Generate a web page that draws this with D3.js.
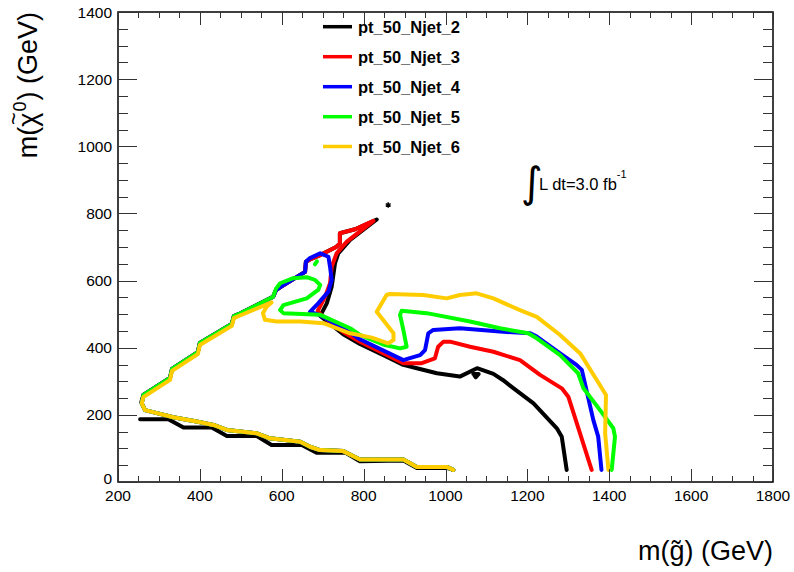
<!DOCTYPE html>
<html><head><meta charset="utf-8">
<script src="https://cdn.jsdelivr.net/npm/d3@7"></script>
<style>
body{margin:0;background:#fff}
svg{display:block}
text{font-family:"Liberation Sans",Arial,Helvetica,sans-serif;fill:#000}
</style>
</head><body>
<svg id="chart" width="794" height="572"></svg>
<script>
// ---------- data ----------
const xTickValues = [200,400,600,800,1000,1200,1400,1600,1800];
const yTickValues = [0,200,400,600,800,1000,1200,1400];
const seriesNames = ["pt_50_Njet_2","pt_50_Njet_3","pt_50_Njet_4","pt_50_Njet_5","pt_50_Njet_6"];
const seriesColors = ["#000000","#ff0000","#0000ff","#00ff00","#ffcc00"];

// shared outer (left diagonal) edge, read top -> bottom
const outerEdge = [[657,626],[596,580],[586,572],[579,552],[498,502],[483,494],[478,471],[400,414],[395,387],[332,337],[327,310],[262,259]];
// shared lower staircase
const bottomEdge = [[258,234],[266,214],[295,205],[335,193],[392,180],[433,170],[466,155],[539,145],[571,130],[645,120],[669,105],[693,95],[750,92],[791,67],[897,67],[930,45],[1003,45],[1019,36]];

const njet2Main = [[1296,36],[1284,135],[1272,160],[1215,234],[1160,285],[1140,304],[1117,322],[1077,339],[1035,314],[979,324],[930,339],[897,349],[856,373],[791,411],[750,440],[694,495],[710,532],[722,582],[730,651],[738,681],[767,721],[832,782],[779,753],[742,741],[742,711],[734,701],[694,676],[669,663],[659,656]];
const njet2Corner = [[262,259],[257,238]];
const njet2Arrow = [[1068,322],[1081,322],[1074,312],[1068,322]];
const njet2Bottom = [[254,187],[323,187],[360,162],[429,162],[466,137],[539,137],[575,110],[649,110],[685,87],[755,88],[791,62],[897,64],[930,42],[1003,42],[1019,36]];

const njet3Main = [[1357,36],[1300,254],[1284,279],[1231,319],[1182,363],[1117,388],[1060,403],[1011,418],[995,418],[982,403],[974,368],[942,354],[897,354],[791,418],[750,447],[694,500],[688,510],[706,552],[718,592],[722,641],[734,681],[759,716],[824,778],[779,753],[742,741],[742,711],[734,701],[694,676],[669,663],[659,656]];

const njet4Main = [[1381,36],[1373,135],[1361,185],[1333,334],[1320,349],[1280,383],[1223,433],[1207,443],[1133,448],[1035,458],[970,453],[958,443],[950,393],[938,378],[913,369],[897,363],[791,425],[767,445],[694,497],[669,507],[689,532],[714,567],[722,602],[718,641],[714,671],[694,681],[669,667],[659,656]];

const njet5Main = [[1406,36],[1414,135],[1410,160],[1377,215],[1337,279],[1324,324],[1280,378],[1223,428],[1202,443],[1133,458],[1060,478],[954,503],[893,510],[889,498],[897,453],[905,403],[889,398],[852,408],[791,438],[767,458],[694,498],[604,503],[596,512],[604,527],[661,547],[689,572],[694,587],[681,602],[661,610],[628,607],[596,592],[586,576],[579,552]];
const njet5Dot = [[681,648],[686,657]];
const njet5Outer = [[498,502],[483,494],[478,471],[400,414],[395,387],[332,337],[327,310],[262,259]];

const njet6Main = [[1398,36],[1390,145],[1392,259],[1377,289],[1329,383],[1280,438],[1223,492],[1182,512],[1117,547],[1076,562],[1035,557],[1003,547],[946,557],[864,560],[856,557],[832,507],[873,443],[873,423],[860,413],[820,430],[767,443],[702,473],[645,478],[588,478],[559,483],[554,503],[563,522],[575,535],[498,496],[483,488],[478,465],[400,408],[395,381],[332,331],[327,304],[262,253]];

const markerPoint = [860,825];

const curves = [
  [njet2Main.concat(outerEdge, njet2Corner), njet2Arrow, njet2Bottom],
  [njet3Main.concat(outerEdge, bottomEdge)],
  [njet4Main.concat(outerEdge, bottomEdge)],
  [njet5Main.concat(njet5Outer, bottomEdge), njet5Dot],
  [njet6Main.concat(bottomEdge)]
];

// ---------- drawing ----------
const svg = d3.select("#chart");
const L = 118, R = 773, T = 12, B = 482;
const x = d3.scaleLinear().domain([200,1800]).range([L,R]);
const y = d3.scaleLinear().domain([0,1400]).range([B,T]);

svg.append("rect").attr("width",794).attr("height",572).attr("fill","#fff");

// curves
const line = d3.line().x(d=>x(d[0])).y(d=>y(d[1]));
const gC = svg.append("g");
curves.forEach((segs,i)=>{
  segs.forEach(seg=>{
    gC.append("path").attr("d",line(seg)).attr("fill","none")
      .attr("stroke",seriesColors[i]).attr("stroke-width",4)
      .attr("stroke-linejoin","round").attr("stroke-linecap","round");
  });
});
svg.append("path").attr("d",d3.symbol(d3.symbolAsterisk,22)())
  .attr("transform",`translate(${x(markerPoint[0])},${y(markerPoint[1])})`)
  .attr("stroke","#000").attr("stroke-width",1.5).attr("fill","none");

// frame
svg.append("rect").attr("x",L).attr("y",T).attr("width",R-L).attr("height",B-T)
  .attr("fill","none").attr("stroke","#000").attr("stroke-width",1.5);

// ticks
const gT = svg.append("g").attr("stroke","#333").attr("stroke-width",1);
const xMinor = d3.range(200,1801,50), yMinor = d3.range(0,1401,50);
xMinor.forEach(v=>{
  const len = (v%200===0)?13:6;
  gT.append("line").attr("x1",Math.round(x(v))+0.5).attr("x2",Math.round(x(v))+0.5).attr("y1",B).attr("y2",B-len);
  gT.append("line").attr("x1",Math.round(x(v))+0.5).attr("x2",Math.round(x(v))+0.5).attr("y1",T).attr("y2",T+len);
});
yMinor.forEach(v=>{
  const len = (v%200===0)?19:10;
  gT.append("line").attr("y1",Math.round(y(v))+0.5).attr("y2",Math.round(y(v))+0.5).attr("x1",L).attr("x2",L+len);
  gT.append("line").attr("y1",Math.round(y(v))+0.5).attr("y2",Math.round(y(v))+0.5).attr("x1",R).attr("x2",R-len);
});

// tick labels
xTickValues.forEach(v=>{
  svg.append("text").attr("x",x(v)).attr("y",501).attr("text-anchor","middle")
    .attr("font-size",15.5).text(v);
});
yTickValues.forEach(v=>{
  svg.append("text").attr("x",112).attr("y",y(v)+(v===0?1.5:5.5)).attr("text-anchor","end")
    .attr("font-size",15.5).text(v);
});

// axis titles
svg.append("text").attr("x",R).attr("y",560).attr("text-anchor","end").attr("font-size",27)
  .text("m(g\u0303) (GeV)");

const gy = svg.append("g");
const t1 = gy.append("text").attr("x",0).attr("y",0).attr("font-size",27).text("m(\u03C7");
const w1 = t1.node().getComputedTextLength();
const tmp = gy.append("text").attr("font-size",27).text("\u03C7");
const wChi = tmp.node().getComputedTextLength(); tmp.remove();
gy.append("text").attr("x",w1 - wChi/2 + 1).attr("y",-16).attr("text-anchor","middle")
  .attr("font-size",22).text("~");
const tSup = gy.append("text").attr("x",w1 + 1).attr("y",-11).attr("font-size",18).text("0");
const wSup = tSup.node().getComputedTextLength();
const tRest = gy.append("text").attr("x",w1 + wSup + 2).attr("y",0).attr("font-size",27).text(") (GeV)");
const total = w1 + wSup + 2 + tRest.node().getComputedTextLength();
gy.attr("transform",`translate(37,${T + total}) rotate(-90)`);

// legend
const legY = [26.7,56.7,86.7,116.7,146.5];
seriesNames.forEach((n,i)=>{
  svg.append("line").attr("x1",323).attr("x2",352).attr("y1",legY[i]).attr("y2",legY[i])
    .attr("stroke",seriesColors[i]).attr("stroke-width",3.5);
  svg.append("text").attr("x",358).attr("y",legY[i]+6).attr("font-size",16.5)
    .attr("font-weight","bold").text(n);
});

// luminosity
svg.append("text").attr("x",521).attr("y",197).attr("font-size",42)
  .style("font-family","'DejaVu Sans',sans-serif").text("\u222B");
const lum = svg.append("text").attr("x",539).attr("y",190).attr("font-size",16.5);
lum.append("tspan").text("L dt=3.0 fb");
lum.append("tspan").attr("font-size",11).attr("dy",-12).text("-1");
</script>
</body></html>
